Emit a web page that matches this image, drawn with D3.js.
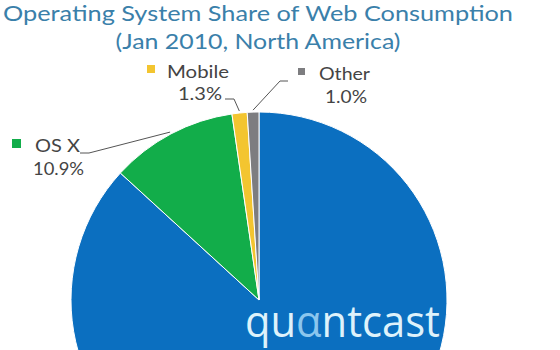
<!DOCTYPE html>
<meta charset="utf-8">
<style>
body {
    margin: 0;
    padding: 0;
    background: #fff;
    overflow: hidden;
}
text {
    font-family: 'Lato', 'DejaVu Sans', sans-serif;
}
</style>
<body>
<svg width="560" height="350"></svg>

<script src="https://d3js.org/d3.v7.min.js"></script>

<script>
// Data
var osNames = ["Windows", "OS X", "Mobile", "Other"];
var osShares = [86.8, 10.9, 1.3, 1.0];
var osColors = ["#0b6fc0", "#12ad4a", "#f3c530", "#7d7d80"];
var titleLines = ["Operating System Share of Web Consumption", "(Jan 2010, North America)"];

var svg = d3.select("svg");

// pie geometry
var cx = 259, cy = 300, radius = 188;

// where each callout sits (Windows has none)
var callouts = {
    "OS X":   {sq: [12, 139, 9], name: [35, 152, 45], pct: [33, 175, 51], elbow: [89, 153], end: [80, 153]},
    "Mobile": {sq: [147, 65, 8], name: [167, 78, 62], pct: [178, 100, 44], elbow: [234, 99], end: [225, 99]},
    "Other":  {sq: [298, 68, 7], name: [319, 80, 51], pct: [325, 103, 42], elbow: [280, 81], end: [288, 81]}
};

var rows = osNames.map(function(n, i) { return {name: n, value: osShares[i], color: osColors[i]}; });

var pie = d3.pie().sort(null).value(function(d) { return d.value; });
var arc = d3.arc().innerRadius(0).outerRadius(radius);
var arcs = pie(rows);

// title
svg.selectAll("text.title")
    .data(titleLines)
    .enter().append("text")
    .attr("class", "title")
    .attr("x", 258)
    .attr("y", function(d, i) { return 21 + i * 28; })
    .attr("text-anchor", "middle")
    .attr("textLength", function(d, i) { return i == 0 ? 510 : 285; })
    .attr("lengthAdjust", "spacingAndGlyphs")
    .style("font-size", "22px")
    .style("fill", "#3a80aa")
    .text(function(d) { return d; });

// slices
var g = svg.append("g").attr("transform", "translate(" + cx + "," + cy + ")");
g.selectAll("path")
    .data(arcs)
    .enter().append("path")
    .attr("d", arc)
    .style("fill", function(d) { return d.data.color; })
    .style("stroke", "#fff")
    .style("stroke-width", 1);

// callouts
var fmt = d3.format(".1f");
arcs.forEach(function(a) {
    var c = callouts[a.data.name];
    if (!c) return;
    var mid = (a.startAngle + a.endAngle) / 2;
    var px = cx + Math.sin(mid) * (radius + 2),
        py = cy - Math.cos(mid) * (radius + 2);

    svg.append("path")
        .attr("d", d3.line()([[px, py], c.elbow, c.end]))
        .style("fill", "none")
        .style("stroke", "#555")
        .style("stroke-width", 1);

    svg.append("rect")
        .attr("x", c.sq[0]).attr("y", c.sq[1])
        .attr("width", c.sq[2]).attr("height", c.sq[2])
        .style("fill", a.data.color);

    svg.append("text")
        .attr("x", c.name[0]).attr("y", c.name[1])
        .attr("textLength", c.name[2])
        .attr("lengthAdjust", "spacingAndGlyphs")
        .style("font-size", "18px")
        .style("fill", "#444")
        .text(a.data.name);

    svg.append("text")
        .attr("x", c.pct[0]).attr("y", c.pct[1])
        .attr("textLength", c.pct[2])
        .attr("lengthAdjust", "spacingAndGlyphs")
        .style("font-size", "18px")
        .style("fill", "#444")
        .text(fmt(a.data.value) + "%");
});

// quantcast watermark, the alpha is lighter
var logo = svg.append("text")
    .attr("x", 245).attr("y", 337)
    .attr("textLength", 195)
    .attr("lengthAdjust", "spacingAndGlyphs")
    .style("font-family", "'Open Sans', sans-serif")
    .style("font-size", "44px")
    .style("fill", "#def2fb");
logo.append("tspan").text("qu");
logo.append("tspan").style("fill", "#8cc6ee").text("\u03b1");
logo.append("tspan").text("ntcast");
</script>
</body>
